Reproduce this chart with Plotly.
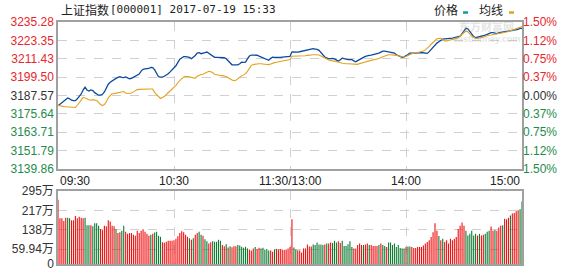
import plotly.graph_objects as go

# ---------------- data ----------------
time_ticks = [0, 60, 120, 180, 240]
time_labels = ["09:30", "10:30", "11:30/13:00", "14:00", "15:00"]
prev_close = 3187.57
price_ticks = [3235.28, 3223.35, 3211.43, 3199.50, 3187.57, 3175.64, 3163.71, 3151.79, 3139.86]
pct_labels = ["1.50%", "1.12%", "0.75%", "0.37%", "0.00%", "0.37%", "0.75%", "1.12%", "1.50%"]
vol_ticks = [295, 217, 138, 59.94, 0]
vol_labels = ["295万", "217万", "138万", "59.94万", "0"]

price = [3180.75,3181.88,3182.83,3184.10,3185.04,3185.87,3185.36,3184.41,3184.10,3184.15,
3185.36,3186.62,3188.52,3191.05,3192.94,3191.05,3190.42,3191.10,3190.73,3189.34,
3188.20,3187.70,3187.72,3188.25,3189.78,3192.31,3194.84,3196.10,3197.05,3197.81,
3198.63,3199.26,3199.70,3199.26,3199.07,3199.58,3199.10,3198.31,3198.63,3199.30,
3199.77,3200.53,3201.47,3203.37,3204.51,3204.76,3204.82,3205.07,3205.71,3205.68,
3204.13,3201.79,3199.70,3199.39,3199.45,3200.02,3200.59,3201.66,3202.86,3204.13,
3205.58,3206.84,3209.06,3211.08,3211.90,3212.72,3212.75,3212.70,3212.22,3211.39,
3212.28,3213.54,3215.06,3215.38,3214.68,3214.87,3215.35,3215.75,3214.81,3213.80,
3212.72,3212.34,3212.30,3212.35,3212.32,3212.34,3212.03,3211.39,3210.26,3208.74,
3207.48,3207.45,3207.50,3207.46,3208.11,3209.12,3209.06,3209.25,3211.27,3213.16,
3213.80,3213.82,3213.78,3213.67,3213.04,3212.41,3211.84,3211.20,3210.64,3210.38,
3211.65,3212.34,3212.28,3212.15,3212.09,3212.28,3212.47,3212.66,3212.78,3212.91,
3212.97,
3215.88,3215.75,3215.56,3215.69,3215.94,3216.26,3216.51,3216.77,3217.02,3217.33,
3217.90,3217.92,3217.71,3217.52,3216.83,3215.44,3213.99,3212.53,3211.90,3211.33,
3211.52,3211.65,3211.27,3210.51,3209.81,3210.76,3211.77,3211.52,3211.01,3210.82,
3210.83,3210.76,3210.00,3209.37,3210.19,3211.08,3211.71,3212.28,3212.97,3213.42,
3213.61,3213.80,3213.99,3214.36,3214.68,3215.06,3215.69,3216.32,3216.30,3216.07,
3215.88,3215.69,3215.56,3215.06,3213.99,3213.29,3212.78,3212.34,3212.66,3213.16,
3214.11,3214.99,3215.00,3214.93,3214.87,3215.00,3215.25,3215.44,3215.19,3214.74,
3214.87,3216.01,3217.46,3219.17,3220.75,3221.57,3222.39,3223.27,3224.10,3224.35,
3224.37,3224.33,3224.41,3224.79,3225.11,3225.42,3225.68,3226.05,3227.76,3229.40,
3231.17,3230.86,3228.96,3227.07,3225.80,3225.04,3225.30,3225.55,3225.93,3226.37,
3226.75,3227.26,3227.82,3228.33,3228.31,3228.01,3227.70,3228.20,3228.58,3228.77,
3228.96,3229.15,3229.34,3229.47,3229.66,3229.91,3230.16,3230.54,3231.30,3230.98]

avg_line = [3181.13,3180.75,3180.30,3180.24,3180.18,3180.11,3180.18,3180.30,3179.99,3179.67,
3181.13,3182.52,3184.48,3186.31,3185.99,3185.42,3184.73,3184.41,3184.79,3184.66,
3184.29,3182.96,3181.57,3180.94,3181.57,3183.46,3185.99,3187.38,3188.58,3188.71,
3188.96,3189.09,3189.40,3189.91,3190.04,3189.15,3188.77,3188.96,3189.15,3189.85,
3190.67,3191.30,3191.49,3191.62,3191.68,3191.68,3191.68,3191.68,3191.68,3191.68,
3189.40,3187.89,3186.50,3185.55,3186.24,3186.81,3188.14,3189.34,3190.29,3191.49,
3192.75,3194.08,3195.79,3197.37,3198.44,3199.39,3200.02,3199.89,3199.77,3199.39,
3198.95,3198.82,3200.02,3200.84,3201.09,3201.28,3201.98,3202.67,3203.18,3202.99,
3202.42,3201.28,3200.90,3200.72,3200.53,3200.40,3200.34,3199.89,3199.01,3198.19,
3197.56,3197.18,3197.43,3198.31,3199.51,3200.27,3200.90,3201.73,3203.18,3205.14,
3207.10,3207.67,3207.92,3208.11,3208.11,3208.11,3208.11,3207.92,3207.67,3207.54,
3208.11,3208.61,3208.87,3209.06,3209.25,3209.44,3209.62,3209.88,3210.19,3210.51,
3210.83,
3212.97,3212.97,3212.97,3212.97,3212.97,3212.97,3213.04,3213.29,3213.61,3213.86,
3213.98,3213.98,3213.98,3213.98,3213.80,3213.23,3212.53,3211.58,3210.83,3210.57,
3210.32,3210.13,3209.94,3209.75,3209.56,3208.99,3208.42,3208.11,3208.11,3208.11,
3208.11,3208.11,3208.11,3207.67,3207.73,3208.23,3208.74,3208.99,3209.31,3209.69,
3209.94,3210.26,3210.64,3210.95,3211.20,3211.58,3212.15,3212.66,3213.29,3213.92,
3213.98,3213.98,3213.98,3213.86,3213.61,3213.35,3212.97,3212.66,3212.53,3212.85,
3213.61,3214.17,3214.62,3215.12,3215.50,3215.63,3215.75,3215.88,3216.39,3217.14,
3218.09,3219.48,3220.81,3222.14,3223.34,3224.35,3224.60,3224.66,3223.84,3223.02,
3223.02,3223.27,3223.53,3223.84,3224.16,3224.54,3224.92,3226.18,3227.38,3228.46,
3229.34,3228.96,3227.38,3225.99,3225.30,3224.60,3224.54,3224.79,3224.98,3225.42,
3225.99,3226.50,3226.69,3226.88,3227.07,3227.38,3227.63,3227.95,3228.20,3228.39,
3228.58,3228.77,3229.15,3229.59,3230.04,3230.48,3231.11,3231.74,3232.31,3232.31]

volume = [260,185,185,174,187,187,185,177,177,194,
185,191,187,185,187,157,157,157,153,165,
165,155,142,137,155,153,177,172,155,153,
142,125,129,135,155,131,122,125,125,118,
114,135,125,135,141,131,122,114,118,122,
127,131,114,110,88,86,90,94,94,94,
96,102,112,125,133,129,118,110,104,98,
104,118,125,131,118,114,100,92,83,88,
92,90,90,98,94,77,72,80,67,72,
68,72,72,77,75,70,66,70,63,59,
55,63,69,61,66,63,66,57,61,55,
55,50,59,61,59,61,57,57,59,63,
69,
181,67,59,56,55,47,63,63,79,71,
71,79,77,87,79,79,77,79,83,83,
87,85,94,87,92,85,94,73,73,80,
92,69,63,63,77,83,77,77,79,83,
77,77,73,73,73,77,83,77,73,69,
87,87,77,83,69,77,65,63,63,69,
71,71,69,65,65,69,69,69,75,83,
89,96,109,128,165,135,113,96,102,89,
96,83,102,96,102,109,142,155,168,155,
135,115,122,135,115,122,115,122,115,118,
122,131,135,152,135,138,135,148,155,157,
183,181,187,196,204,206,213,218,222,253]

vol_dir = [1,1,1,1,1,-1,-1,1,1,1,
1,1,1,1,-1,-1,-1,1,-1,-1,
-1,-1,1,1,1,1,1,1,1,1,
-1,1,1,-1,-1,1,1,1,1,1,
1,1,1,1,1,1,1,1,-1,1,
-1,-1,-1,-1,1,1,1,1,1,1,
1,1,1,1,1,1,1,1,-1,1,
-1,1,1,-1,-1,1,-1,-1,1,1,
-1,-1,-1,-1,-1,1,1,-1,1,-1,
1,1,1,-1,-1,-1,-1,-1,-1,1,
1,1,-1,1,1,-1,-1,-1,-1,-1,
1,1,-1,1,1,1,1,1,1,1,
1,
1,-1,-1,1,1,1,1,1,1,1,
1,-1,-1,-1,-1,-1,-1,1,-1,1,
1,-1,-1,-1,1,1,-1,-1,-1,-1,
-1,-1,1,1,1,1,1,-1,1,1,
-1,1,1,1,1,-1,1,-1,-1,1,
-1,-1,-1,-1,-1,-1,-1,-1,-1,1,
-1,-1,1,1,1,1,1,1,1,1,
1,1,1,1,1,1,-1,1,-1,1,
1,1,1,1,1,1,1,1,1,1,
-1,-1,-1,-1,-1,-1,1,-1,1,1,
-1,-1,-1,1,1,-1,1,1,1,-1,
1,1,1,-1,1,1,1,1,-1,-1]

minutes = list(range(len(price)))

# ---------------- style ----------------
RED = "#e8262b"
GREEN = "#1e8c4a"
BAR_RED = "#f01010"
BAR_GREEN = "#0d7a32"
DARK = "#333333"
BORDER = "#a0a0a0"
GRID = "#d0d0d0"
FONT = "Liberation Sans, Arial, Noto Sans CJK SC, sans-serif"
W, H = 578, 276
L, R, T, B = 58, 56, 22, 5
PH = H - T - B  # plot height px

def py(ypix):
    return (H - B - ypix) / PH

def px(xpix):
    return (xpix - L) / (W - L - R)

def color_for(v):
    if v > prev_close + 1e-6:
        return RED
    if v < prev_close - 1e-6:
        return GREEN
    return DARK

left_text = ['<span style="color:%s">%.2f</span>' % (color_for(v), v) for v in price_ticks]
right_text = ['<span style="color:%s">%s</span>' % (color_for(v), t) for v, t in zip(price_ticks, pct_labels)]

# volume bars drawn as 1px vertical strokes (one trace per colour)
def stems(sign):
    xs, ys = [], []
    for m, v, d in zip(minutes, volume, vol_dir):
        if d == sign:
            xs += [m, m, None]
            ys += [0, v, None]
    return xs, ys

fig = go.Figure()
fig.add_trace(go.Scatter(x=minutes, y=price, mode="lines",
                         line=dict(color="#0b4a9e", width=1.3), xaxis="x", yaxis="y",
                         showlegend=False, hoverinfo="skip"))
fig.add_trace(go.Scatter(x=minutes, y=avg_line, mode="lines",
                         line=dict(color="#e3a21a", width=1.1), xaxis="x", yaxis="y",
                         showlegend=False, hoverinfo="skip"))
fig.add_trace(go.Scatter(x=[0, 240], y=[prev_close, prev_close], mode="lines",
                         line=dict(width=0), opacity=0, xaxis="x", yaxis="y2",
                         showlegend=False, hoverinfo="skip"))
for sign, col in ((1, BAR_RED), (-1, BAR_GREEN)):
    xs, ys = stems(sign)
    fig.add_trace(go.Scatter(x=xs, y=ys, mode="lines", line=dict(color=col, width=1.1),
                             connectgaps=False, xaxis="x2", yaxis="y3",
                             showlegend=False, hoverinfo="skip"))

axis_common = dict(showline=True, mirror=True, linecolor=BORDER, linewidth=1.5,
                   zeroline=False, ticks="")

main_bottom = py(173)
vol_top = py(196)

fig.update_layout(
    width=W, height=H,
    margin=dict(l=L, r=R, t=T, b=B),
    paper_bgcolor="white", plot_bgcolor="white",
    font=dict(family=FONT, size=12, color=DARK),
    xaxis=dict(domain=[0, 1], range=[0, 240], anchor="y", tickvals=time_ticks[1:-1],
               showticklabels=False, showgrid=True, gridcolor=GRID, griddash="dash",
               gridwidth=1, **axis_common),
    xaxis2=dict(domain=[0, 1], range=[0, 240], anchor="y3", tickvals=time_ticks[1:-1],
                showticklabels=False, showgrid=True, gridcolor=GRID, griddash="dash",
                gridwidth=1, **axis_common),
    yaxis=dict(domain=[main_bottom, 1], range=[price_ticks[-1], price_ticks[0]], anchor="x",
               tickvals=price_ticks, ticktext=left_text, showgrid=True, gridcolor=GRID,
               griddash="dash", gridwidth=1, tickfont=dict(size=12), **axis_common),
    yaxis2=dict(overlaying="y", side="right", anchor="x",
                range=[price_ticks[-1], price_ticks[0]], tickvals=price_ticks,
                ticktext=right_text, showgrid=False, showline=False, zeroline=False,
                ticks="", tickfont=dict(size=12)),
    yaxis3=dict(domain=[0, vol_top], range=[0, 295], anchor="x2",
                tickvals=vol_ticks, ticktext=vol_labels, showgrid=True, gridcolor=GRID,
                griddash="dash", gridwidth=1, tickfont=dict(size=12, color=DARK),
                ticklabeloverflow="allow", **axis_common),
)

# time labels under the price pane
anchors = ["left", "center", "center", "center", "right"]
for t, lab, a in zip(time_ticks, time_labels, anchors):
    fig.add_annotation(x=t, y=py(186), xref="x", yref="paper", text=lab, showarrow=False,
                       xanchor=a, yanchor="middle", font=dict(size=12, color="#222"))

# title (CJK part + monospaced code/date part)
fig.add_annotation(x=px(59), y=py(9.5), xref="paper", yref="paper",
                   text="上证指数", showarrow=False, xanchor="left", yanchor="middle",
                   font=dict(size=12, color="#222", family="Noto Sans CJK SC"))
fig.add_annotation(x=px(108), y=py(9.5), xref="paper", yref="paper",
                   text="[000001] 2017-07-19 15:33", showarrow=False,
                   xanchor="left", yanchor="middle",
                   font=dict(size=11, color="#222", family="DejaVu Sans Mono, Liberation Mono"))

# legend
fig.add_annotation(x=px(445.5), y=py(9), xref="paper", yref="paper", text="价格",
                   showarrow=False, xanchor="center", yanchor="middle",
                   font=dict(size=12, color="#222", family="Noto Sans CJK SC"))
fig.add_annotation(x=px(491), y=py(9), xref="paper", yref="paper", text="均线",
                   showarrow=False, xanchor="center", yanchor="middle",
                   font=dict(size=12, color="#222", family="Noto Sans CJK SC"))
fig.add_shape(type="rect", xref="paper", yref="paper", x0=px(463), x1=px(468),
              y0=py(13.5), y1=py(11), fillcolor="#119a96", line=dict(width=0))
fig.add_shape(type="rect", xref="paper", yref="paper", x0=px(509), x1=px(514),
              y0=py(13.5), y1=py(11), fillcolor="#e3a21a", line=dict(width=0))

# watermark
fig.add_annotation(x=px(486), y=py(26.5), xref="paper", yref="paper", text="<b>东方财富网</b>",
                   showarrow=False, xanchor="center", yanchor="middle", opacity=0.3,
                   borderpad=0, font=dict(size=11, color="#a8a8a8", family="Noto Sans CJK SC"))
fig.add_annotation(x=px(486), y=py(39), xref="paper", yref="paper", text="<b>eastmoney.com</b>",
                   showarrow=False, xanchor="center", yanchor="middle", opacity=0.3,
                   borderpad=0, font=dict(size=9, color="#a8a8a8", family="Liberation Sans"))

fig.write_html("out.html")
